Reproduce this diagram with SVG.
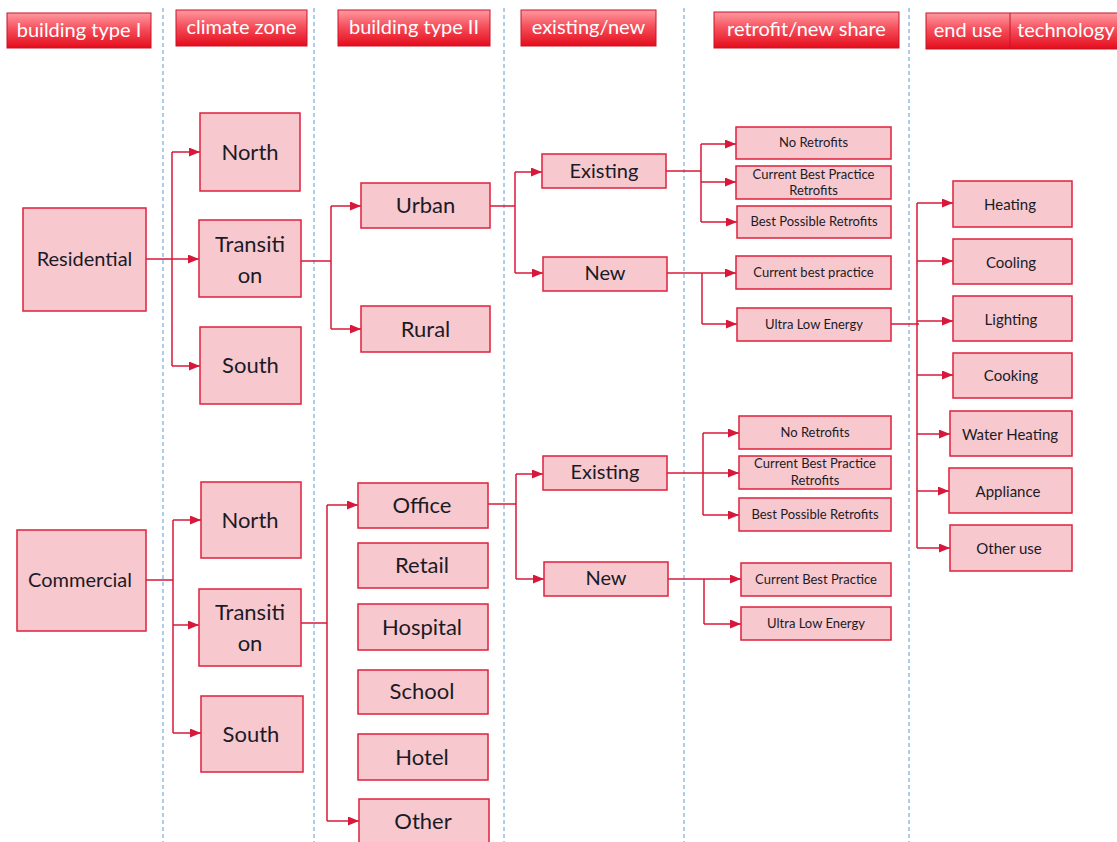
<svg xmlns="http://www.w3.org/2000/svg" width="1117" height="842" viewBox="0 0 1117 842">
<defs>
<linearGradient id="hdr" x1="0" y1="0" x2="0" y2="1">
<stop offset="0" stop-color="#ff9aa2"/>
<stop offset="0.45" stop-color="#f5505c"/>
<stop offset="1" stop-color="#e40c1c"/>
</linearGradient>
<marker id="arr" markerUnits="userSpaceOnUse" markerWidth="11" markerHeight="9" refX="11" refY="4.5" orient="auto">
<path d="M0,0 L11,4.5 L0,9 z" fill="#d7183a"/>
</marker>
<style>
.hdr{fill:url(#hdr);stroke:#c8152b;stroke-width:1}
.ht{fill:#ffffff;font-family:Lato,"Liberation Sans",sans-serif;font-size:20px;text-anchor:middle}
.n{fill:#f8c8cf;stroke:#e0203c;stroke-width:1.5}
.t{fill:#1b1b26;font-family:Lato,"Liberation Sans",sans-serif;text-anchor:middle}
.b{font-size:22px}
.m{font-size:20px}
.s{font-size:13px}
.e{font-size:15px}
.c{fill:none;stroke:#d7183a;stroke-width:1.5}
.a{fill:none;stroke:#d7183a;stroke-width:1.5;marker-end:url(#arr)}
.d{stroke:#5b9bd5;stroke-width:1;stroke-dasharray:4 3}
</style>
</defs>
<rect width="1117" height="842" fill="#ffffff"/>
<g id="dividers">
<line class="d" x1="163" y1="8" x2="163" y2="842"/>
<line class="d" x1="314" y1="8" x2="314" y2="842"/>
<line class="d" x1="504" y1="8" x2="504" y2="842"/>
<line class="d" x1="684" y1="8" x2="684" y2="842"/>
<line class="d" x1="909" y1="8" x2="909" y2="842"/>
</g>
<g id="headers">
<g id="h1"><rect class="hdr" x="7" y="13" width="144" height="35"/><text class="ht" x="79" y="37">building type I</text></g>
<g id="h2"><rect class="hdr" x="176" y="10" width="131" height="36"/><text class="ht" x="241.5" y="34">climate zone</text></g>
<g id="h3"><rect class="hdr" x="338" y="10" width="152" height="36"/><text class="ht" x="414" y="34">building type II</text></g>
<g id="h4"><rect class="hdr" x="521" y="10" width="135" height="36"/><text class="ht" x="588.5" y="34">existing/new</text></g>
<g id="h5"><rect class="hdr" x="714" y="12" width="185" height="36"/><text class="ht" x="806.5" y="36">retrofit/new share</text></g>
<g id="h6"><rect class="hdr" x="926" y="13" width="195" height="36"/><line x1="1010" y1="13" x2="1010" y2="49" stroke="#c8152b" stroke-width="1"/><text class="ht" x="968" y="37">end use</text><text class="ht" x="1066" y="37">technology</text></g>
</g>
<g id="connectors">
<path class="c" d="M146,259 H172 M172,152 V366"/>
<path class="a" d="M172,152 H200"/>
<path class="a" d="M172,259 H199"/>
<path class="a" d="M172,366 H200"/>
<path class="c" d="M301,261 H331 M331,206 V329"/>
<path class="a" d="M331,206 H361"/>
<path class="a" d="M331,329 H361"/>
<path class="c" d="M490,206 H515 M515,172 V273"/>
<path class="a" d="M515,172 H542"/>
<path class="a" d="M515,273 H543"/>
<path class="c" d="M666,171 H701 M701,144 V222"/>
<path class="a" d="M701,144 H736"/>
<path class="a" d="M701,182 H736"/>
<path class="a" d="M701,222 H737"/>
<path class="a" d="M667,273 H736"/>
<path class="c" d="M702,273 V324"/>
<path class="a" d="M702,324 H737"/>
<path class="c" d="M891,324 H919 M917,203 V548"/>
<path class="a" d="M917,203 H953"/>
<path class="a" d="M917,261 H953"/>
<path class="a" d="M917,321 H953"/>
<path class="a" d="M917,375 H953"/>
<path class="a" d="M917,434 H950"/>
<path class="a" d="M917,491 H949"/>
<path class="a" d="M917,548 H950"/>
<path class="c" d="M146,580 H173 M173,520 V733"/>
<path class="a" d="M173,520 H201"/>
<path class="a" d="M173,625 H199"/>
<path class="a" d="M173,733 H201"/>
<path class="c" d="M301,623 H327 M327,505 V821"/>
<path class="a" d="M327,505 H358"/>
<path class="a" d="M327,821 H359"/>
<path class="c" d="M488,504 H516 M516,474 V579"/>
<path class="a" d="M516,474 H543"/>
<path class="a" d="M516,579 H544"/>
<path class="c" d="M667,473 H703 M703,433 V515"/>
<path class="a" d="M703,433 H739"/>
<path class="a" d="M703,473 H739"/>
<path class="a" d="M703,515 H739"/>
<path class="a" d="M668,579 H741"/>
<path class="c" d="M704,579 V624"/>
<path class="a" d="M704,624 H741"/>
</g>
<g id="residential"><rect class="n" x="23" y="208" width="123" height="103"/><text class="t m" x="84.5" y="266">Residential</text></g>
<g id="r-north"><rect class="n" x="200" y="113" width="100" height="78"/><text class="t b" x="250" y="160">North</text></g>
<g id="r-transition"><rect class="n" x="199" y="220" width="102" height="77"/><text class="t b" x="250" y="252">Transiti</text><text class="t b" x="250" y="283">on</text></g>
<g id="r-south"><rect class="n" x="200" y="327" width="101" height="77"/><text class="t b" x="250.5" y="373">South</text></g>
<g id="urban"><rect class="n" x="361" y="183" width="129" height="45"/><text class="t b" x="425.5" y="213">Urban</text></g>
<g id="rural"><rect class="n" x="361" y="306" width="129" height="46"/><text class="t b" x="425.5" y="337">Rural</text></g>
<g id="r-existing"><rect class="n" x="542" y="154" width="124" height="34"/><text class="t m" x="604" y="178">Existing</text></g>
<g id="r-new"><rect class="n" x="543" y="257" width="124" height="34"/><text class="t m" x="605" y="280">New</text></g>
<g id="r-noretro"><rect class="n" x="736" y="127" width="155" height="32"/><text class="t s" x="813.5" y="147">No Retrofits</text></g>
<g id="r-cbpretro"><rect class="n" x="736" y="166" width="155" height="33"/><text class="t s" x="813.5" y="179">Current Best Practice</text><text class="t s" x="813.5" y="195">Retrofits</text></g>
<g id="r-bpr"><rect class="n" x="737" y="206" width="154" height="32"/><text class="t s" x="814" y="226">Best Possible Retrofits</text></g>
<g id="r-cbp"><rect class="n" x="736" y="256" width="155" height="33"/><text class="t s" x="813.5" y="277">Current best practice</text></g>
<g id="r-ule"><rect class="n" x="737" y="308" width="154" height="33"/><text class="t s" x="814" y="329">Ultra Low Energy</text></g>
<g id="heating"><rect class="n" x="953" y="181" width="119" height="46"/><text class="t e" x="1010" y="210">Heating</text></g>
<g id="cooling"><rect class="n" x="953" y="239" width="119" height="45"/><text class="t e" x="1011" y="268">Cooling</text></g>
<g id="lighting"><rect class="n" x="953" y="296" width="119" height="45"/><text class="t e" x="1011" y="325">Lighting</text></g>
<g id="cooking"><rect class="n" x="953" y="353" width="119" height="45"/><text class="t e" x="1011" y="381">Cooking</text></g>
<g id="waterheating"><rect class="n" x="950" y="411" width="122" height="45"/><text class="t e" x="1010" y="440">Water Heating</text></g>
<g id="appliance"><rect class="n" x="949" y="468" width="123" height="45"/><text class="t e" x="1008" y="497">Appliance</text></g>
<g id="otheruse"><rect class="n" x="950" y="525" width="122" height="46"/><text class="t e" x="1009" y="554">Other use</text></g>
<g id="commercial"><rect class="n" x="17" y="530" width="129" height="101"/><text class="t m" x="80" y="587">Commercial</text></g>
<g id="c-north"><rect class="n" x="201" y="482" width="100" height="76"/><text class="t b" x="250" y="528">North</text></g>
<g id="c-transition"><rect class="n" x="199" y="589" width="102" height="77"/><text class="t b" x="250" y="620">Transiti</text><text class="t b" x="250" y="651">on</text></g>
<g id="c-south"><rect class="n" x="201" y="696" width="102" height="76"/><text class="t b" x="251" y="742">South</text></g>
<g id="office"><rect class="n" x="358" y="483" width="130" height="45"/><text class="t b" x="422" y="513">Office</text></g>
<g id="retail"><rect class="n" x="358" y="543" width="130" height="45"/><text class="t b" x="422" y="573">Retail</text></g>
<g id="hospital"><rect class="n" x="358" y="604" width="130" height="46"/><text class="t b" x="422" y="635">Hospital</text></g>
<g id="school"><rect class="n" x="358" y="670" width="130" height="44"/><text class="t b" x="422" y="699">School</text></g>
<g id="hotel"><rect class="n" x="358" y="734" width="130" height="46"/><text class="t b" x="422" y="765">Hotel</text></g>
<g id="other"><rect class="n" x="359" y="799" width="130" height="48"/><text class="t b" x="423" y="829">Other</text></g>
<g id="c-existing"><rect class="n" x="543" y="456" width="124" height="34"/><text class="t m" x="605" y="479">Existing</text></g>
<g id="c-new"><rect class="n" x="544" y="562" width="124" height="34"/><text class="t m" x="606" y="585">New</text></g>
<g id="c-noretro"><rect class="n" x="739" y="416" width="152" height="33"/><text class="t s" x="815" y="437">No Retrofits</text></g>
<g id="c-cbpretro"><rect class="n" x="739" y="456" width="152" height="33"/><text class="t s" x="815" y="468">Current Best Practice</text><text class="t s" x="815" y="485">Retrofits</text></g>
<g id="c-bpr"><rect class="n" x="739" y="498" width="152" height="33"/><text class="t s" x="815" y="519">Best Possible Retrofits</text></g>
<g id="c-cbp"><rect class="n" x="741" y="563" width="150" height="33"/><text class="t s" x="816" y="584">Current Best Practice</text></g>
<g id="c-ule"><rect class="n" x="741" y="607" width="150" height="33"/><text class="t s" x="816" y="628">Ultra Low Energy</text></g>
</svg>
